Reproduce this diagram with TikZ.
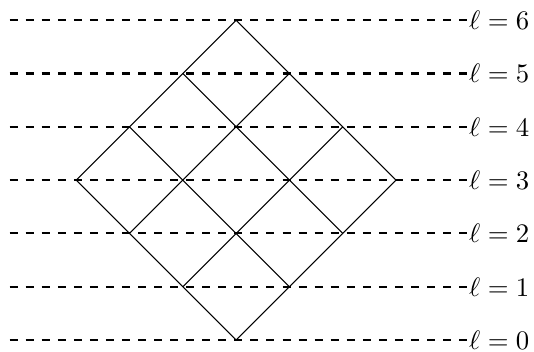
\documentclass[tikz,border=0pt]{standalone}
\usepackage{amsmath,amssymb}
\usepackage{tikz}
\usetikzlibrary{positioning}

\begin{document}
\begin{tikzpicture}[
    x=0.7cm, y=0.7cm,
    level/.style={thick, dashed},
    gridline/.style={thin, black},
    lvllabel/.style={anchor=west, inner sep=0.6pt},
]
    \useasboundingbox (-4.43,-0.21) rectangle (5.59,6.38);

    % levels
    \foreach \l in {0,...,6} {
        \coordinate (s\l) at (-4.25,\l);
        \node[lvllabel] (lab\l) at (4.334,\l) {$\ell = \l$};
        \draw[level] (s\l) -- (lab\l.west);
    }

    % rotated grid
    \foreach \i in {0,...,3} {
        \draw[gridline] (-\i,\i) -- ++(3,3);
        \draw[gridline] (\i,\i) -- ++(-3,3);
    }
\end{tikzpicture}
\end{document}
